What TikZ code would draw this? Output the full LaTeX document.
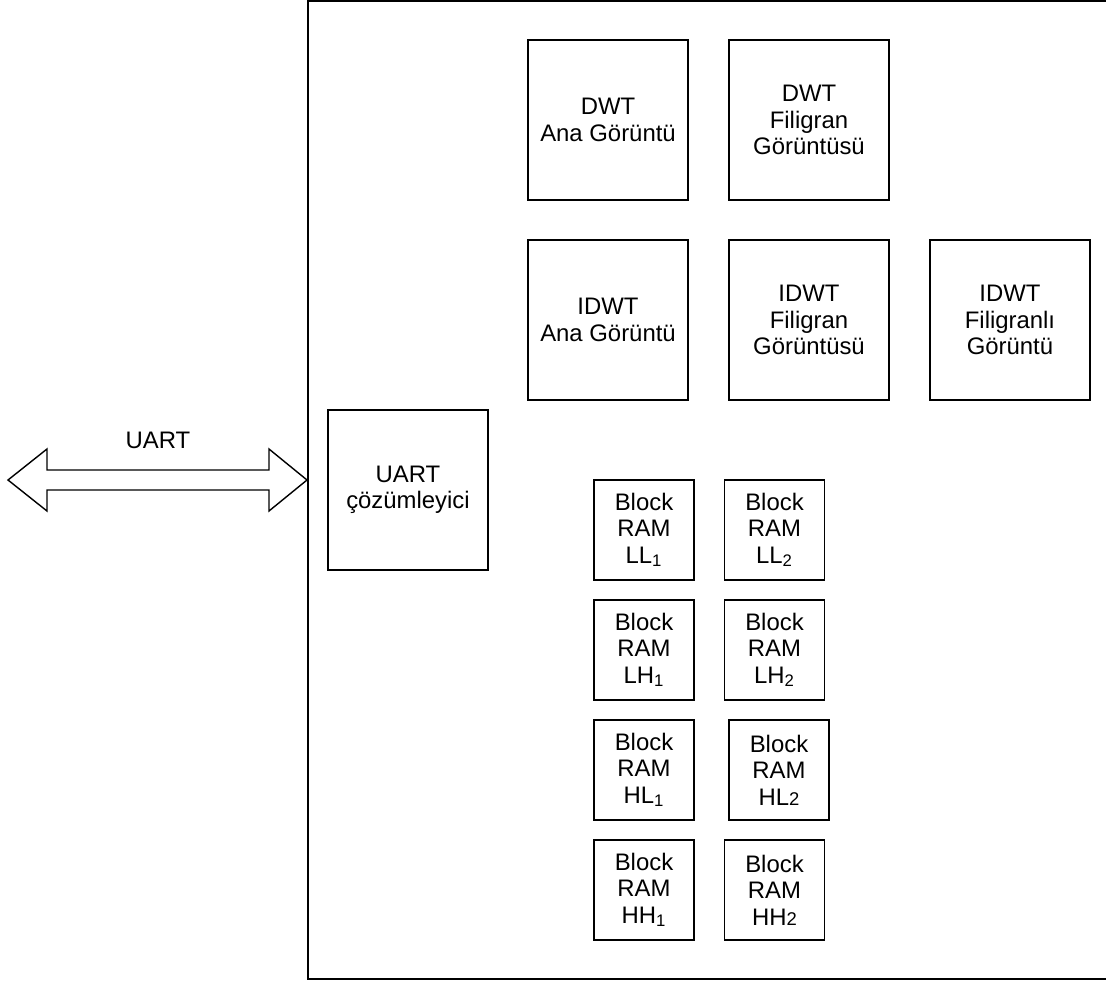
\documentclass[tikz,border=0pt]{standalone}
\usepackage{fontspec}
\setmainfont{Liberation Sans}
\usetikzlibrary{calc}

\begin{document}
\begin{tikzpicture}[x=0.02cm, y=-0.02cm, line width=0.8pt,
        box/.style={draw, minimum size=3.2cm, align=center, inner sep=0pt, font=\fontsize{13.6}{15}\selectfont},
        ram/.style={draw, minimum size=2cm, align=center, inner sep=0pt, font=\fontsize{13.6}{15}\selectfont}]
        \useasboundingbox (0,0) rectangle (1106,984);
        % outer block
        \draw (308,1) rectangle (1120,979);
        \node[box] (dwtana) at (608,120) {DWT\\Ana Görüntü};
        \node[box] (dwtfil) at (809,120) {DWT\\Filigran\\Görüntüsü};
        \node[box] (idwtana) at (608,320) {IDWT\\Ana Görüntü};
        \node[box] (idwtfil) at (809,320) {IDWT\\Filigran\\Görüntüsü};
        \node[box] (idwtout) at (1010,320) {IDWT\\Filigranlı\\Görüntü};
        \node[box] (uartdec) at (408,490) {UART\\çözümleyici};
        % block rams
        \node[ram] (ll1) at (644,530) {Block\\RAM\\LL\textsubscript{1}};
        \node[ram] (ll2) at (774.5,530) {Block\\RAM\\LL\textsubscript{2}};
        \node[ram] (lh1) at (644,650) {Block\\RAM\\LH\textsubscript{1}};
        \node[ram] (lh2) at (774.5,650) {Block\\RAM\\LH\textsubscript{2}};
        \node[ram] (hl1) at (644,770) {Block\\RAM\\HL\textsubscript{1}};
        \node[ram] (hl2) at (779,770) {Block\\RAM\\HL{\fontsize{10.5}{10.5}\selectfont 2}};
        \node[ram] (hh1) at (644,890) {Block\\RAM\\HH\textsubscript{1}};
        \node[ram] (hh2) at (774.5,890) {Block\\RAM\\HH{\fontsize{10.5}{10.5}\selectfont 2}};
        % uart link
        \coordinate (uartend) at (8,480);
        \coordinate (uartin) at (307,480);
        \draw (uartend) -- ++(39,-31) -- ++(0,21) -- ($(uartin)+(-38,-10)$) -- ++(0,-21) -- (uartin)
            -- ++(-38,31) -- ++(0,-21) -- ($(uartend)+(39,10)$) -- ++(0,21) -- cycle;
        \node[font=\fontsize{13.6}{15}\selectfont] (uartlbl) at (158,440) {UART};
    \end{tikzpicture}
\end{document}
